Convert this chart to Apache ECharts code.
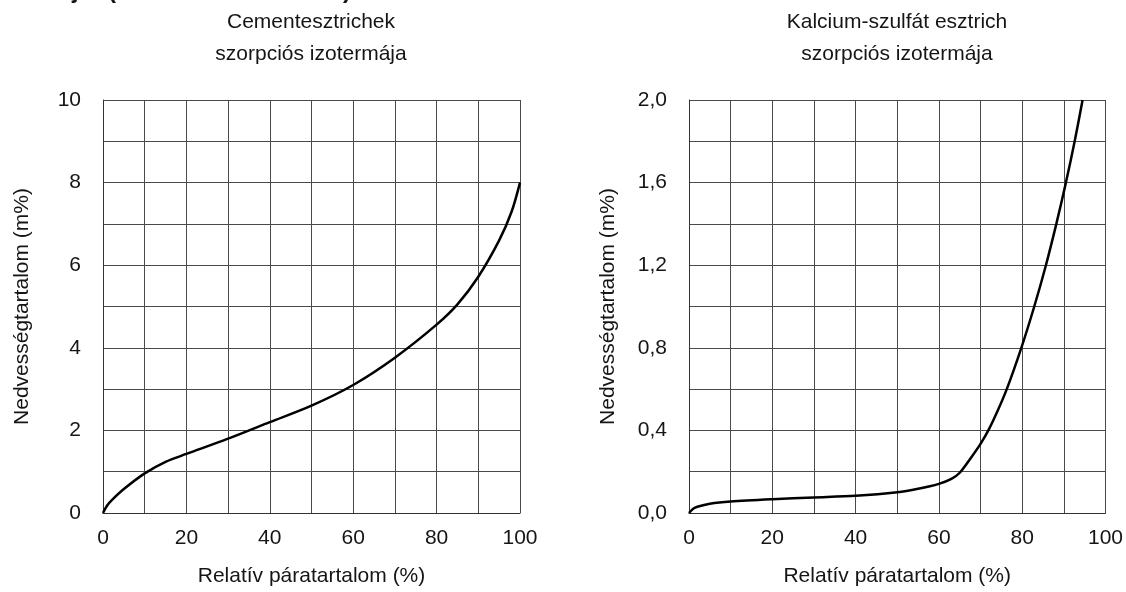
<!DOCTYPE html>
<html>
<head>
<meta charset="utf-8">
<script src="https://cdn.jsdelivr.net/npm/echarts@6/dist/echarts.min.js"></script>
<style>
  html, body { margin: 0; padding: 0; background: #fff; }
  #chart { width: 1126px; height: 592px; }
</style>
</head>
<body>
<div id="chart"></div>
<script>
// Sorption isotherms: moisture content (m%) vs. relative humidity (%)
const cementTitle = 'Cementesztrichek\nszorpciós izotermája';
const sulfateTitle = 'Kalcium-szulfát esztrich\nszorpciós izotermája';
const xName = 'Relatív páratartalom (%)';
const yName = 'Nedvességtartalom (m%)';

// Cement screed isotherm [RH %, moisture m%]
const cementCurve = [
  [0, 0], [1, 0.18], [2, 0.3], [5, 0.58], [10, 0.96], [15, 1.24], [20, 1.43],
  [30, 1.8], [40, 2.2], [50, 2.6], [60, 3.1], [70, 3.76],
  [80, 4.56], [85, 5.05], [90, 5.72], [95, 6.6], [98, 7.3], [100, 8.0]
];

// Calcium sulphate screed isotherm [RH %, moisture m%]
const sulfateCurve = [
  [0, 0], [1, 0.02], [2, 0.03], [5, 0.045], [10, 0.056], [20, 0.067],
  [30, 0.075], [40, 0.083], [50, 0.1], [55, 0.117], [60, 0.141], [63, 0.165],
  [65, 0.195], [67.5, 0.262], [70, 0.335], [72, 0.405], [74, 0.49], [76.3, 0.6],
  [79.8, 0.8], [82.9, 1.0], [85.7, 1.2], [88.2, 1.4], [90.5, 1.6],
  [92.6, 1.8], [94.5, 2.0]
];

const font = '"Liberation Sans", Arial, sans-serif';
const textColor = '#151515';
const gridColor = '#4a4a4a';

function xAxis(gridIndex) {
  return {
    type: 'value', gridIndex, min: 0, max: 100, interval: 10,
    name: xName, nameLocation: 'middle', nameGap: 53,
    nameTextStyle: { fontFamily: font, fontSize: 21, color: textColor },
    axisLine: { show: true, onZero: false, lineStyle: { color: '#333', width: 1 } },
    axisTick: { show: false },
    axisLabel: {
      margin: 15, fontFamily: font, fontSize: 21, color: textColor,
      formatter: v => (Math.round(v) % 20 === 0 ? String(Math.round(v)) : '')
    },
    splitLine: { show: true, lineStyle: { color: gridColor, width: 1 } }
  };
}

function yAxis(gridIndex, max, interval, labelEvery, fmt) {
  return {
    type: 'value', gridIndex, min: 0, max, interval,
    name: yName, nameLocation: 'middle', nameGap: 70,
    nameTextStyle: { fontFamily: font, fontSize: 21, color: textColor },
    axisLine: { show: true, onZero: false, lineStyle: { color: '#333', width: 1 } },
    axisTick: { show: false },
    axisLabel: {
      margin: 22, fontFamily: font, fontSize: 21, color: textColor,
      formatter: v => {
        const k = Math.round(v / interval);
        return k % labelEvery === 0 ? fmt(v) : '';
      }
    },
    splitLine: { show: true, lineStyle: { color: gridColor, width: 1 } }
  };
}

const chart = echarts.init(document.getElementById('chart'), null, { renderer: 'canvas' });

const titleStyle = { fontFamily: font, fontSize: 21, fontWeight: 'normal', color: textColor, lineHeight: 32 };

chart.setOption({
  backgroundColor: '#fff',
  animation: false,
  title: [
    { text: cementTitle, left: 306, top: 1, textAlign: 'center', textStyle: titleStyle },
    { text: sulfateTitle, left: 892, top: 1, textAlign: 'center', textStyle: titleStyle }
  ],
  // descenders of the heading line above the panels
  graphic: [
    { type: 'text', left: 72, top: -21, style: { text: 'j', font: 'bold 24px ' + font, fill: textColor } },
    { type: 'text', left: 108, top: -21, style: { text: '(', font: 'bold 24px ' + font, fill: textColor } },
    { type: 'text', left: 343, top: -21, style: { text: ')', font: 'bold 24px ' + font, fill: textColor } }
  ],
  grid: [
    { left: 103, top: 100, width: 417, height: 417, containLabel: false },
    { left: 689, top: 100, width: 417, height: 417, containLabel: false }
  ],
  xAxis: [xAxis(0), xAxis(1)],
  yAxis: [
    yAxis(0, 10, 1, 2, v => String(Math.round(v))),
    yAxis(1, 2, 0.2, 2, v => v.toFixed(1).replace('.', ','))
  ],
  series: [
    { type: 'line', xAxisIndex: 0, yAxisIndex: 0, data: cementCurve,
      smooth: 0.3, showSymbol: false,
      lineStyle: { color: '#000', width: 2.5 } },
    { type: 'line', xAxisIndex: 1, yAxisIndex: 1, data: sulfateCurve,
      smooth: 0.3, showSymbol: false,
      lineStyle: { color: '#000', width: 2.5 } }
  ]
});
</script>
</body>
</html>
